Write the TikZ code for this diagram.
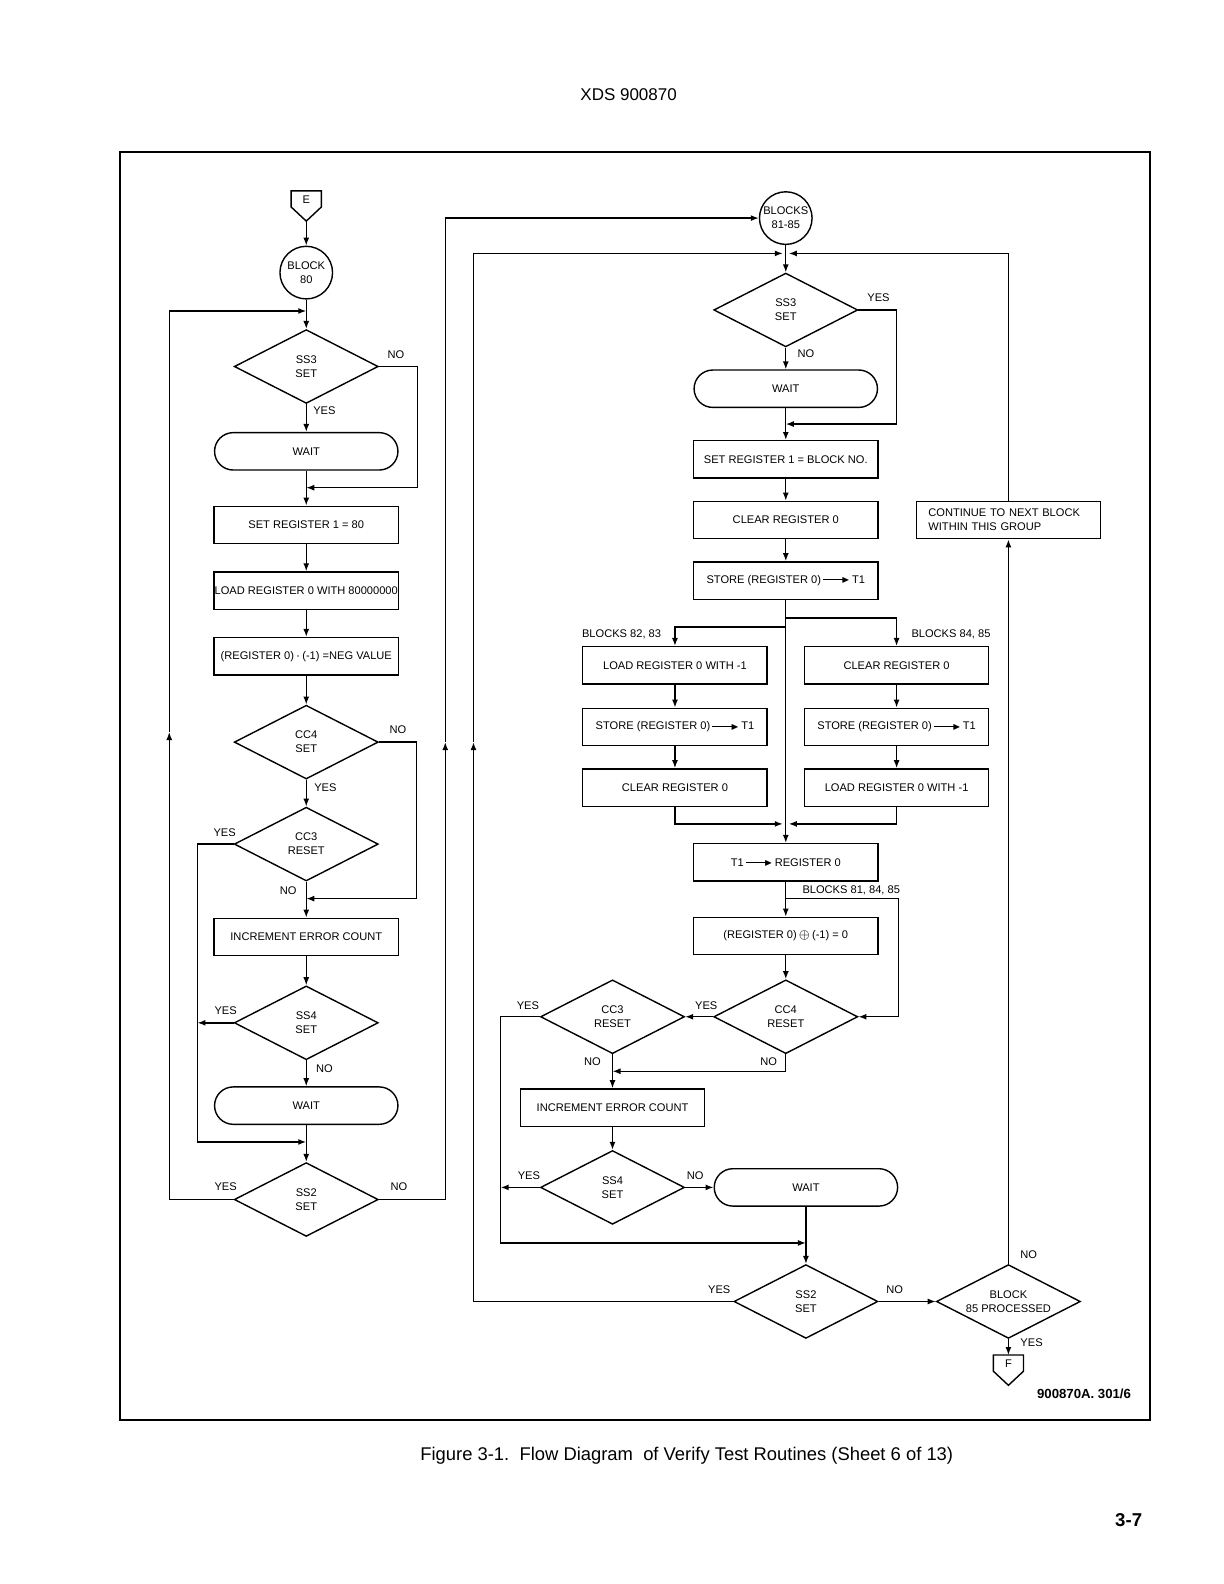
\documentclass[tikz,border=0pt]{standalone}
\usepackage{fontspec}
\usepackage{amssymb}
\usepackage{graphicx}
\setmainfont{Liberation Sans}
\usetikzlibrary{shapes.geometric,arrows.meta,calc}
\newcommand{\tarr}{\,\rule[0.3em]{2em}{0.4pt}\kern-0.35em\raisebox{0.05em}{\scalebox{0.75}{$\blacktriangleright$}}\,}
\begin{document}
\begin{tikzpicture}[x=0.50375pt,y=-0.5049pt,line width=0.7pt,
  every node/.style={font=\fontsize{5.55}{7}\selectfont},
  box/.style={draw, rectangle, minimum width=92.2pt, minimum height=18.7pt, inner sep=0.5pt},
  waitbox/.style={draw, rectangle, rounded corners=9.35pt, minimum width=91.7pt, minimum height=18.7pt},
  dec/.style={draw, diamond, aspect=2, minimum width=72pt, minimum height=36.9pt, inner sep=0pt, align=center},
  circ/.style={draw, circle, minimum size=26.3pt, inner sep=0pt, align=center},
  lbl/.style={inner sep=0pt},
  arr/.style={-{Latex[length=4pt,width=3pt]}}]
\useasboundingbox (0,0) rectangle (1214.9,1568.8);
% page texts
\node[font=\fontsize{8.5}{10}\selectfont] (head) at (624,94) {XDS 900870};
\draw[line width=1pt] (119,151) rectangle (1142,1406);
\node[anchor=west,font=\fontsize{9.2}{11}\selectfont] (cap) at (410,1442) {Figure 3-1.\ \ Flow Diagram\ \ of Verify Test Routines (Sheet 6 of 13)};
\node[anchor=east,font=\bfseries\fontsize{9.3}{11}\selectfont] (pg) at (1141,1506) {3-7};
\node[anchor=east,font=\bfseries\fontsize{6.6}{8}\selectfont] (fig) at (1130,1380) {900870A. 301/6};

% ================= LEFT COLUMN =================
\node[lbl] (etext) at (304,198) {E};
\draw (289,189) -- (319,189) -- (319,205) -- (304,219) -- (289,205) -- cycle;
\coordinate (etip) at (304,219);
\node[circ] (b80) at (304,270) {BLOCK\\80};
\draw[arr] (etip) -- (b80.north);
\coordinate (lj1) at (304,308);
\draw (b80.south) -- (lj1);
\node[dec] (lss3) at (304,363) {SS3\\SET};
\draw[arr] (lj1) -- (lss3.north);
\node[lbl] (lno1) at (393,351) {NO};
\node[lbl] (lyes1) at (322,407) {YES};
\node[waitbox] (lw1) at (304,447) {WAIT};
\draw[arr] (lss3.south) -- (lw1.north);
\coordinate (lj2) at (304,483);
\draw[arr] (lss3.east) -- ++(38,0) |- (lj2);
\draw (lw1.south) -- (lj2);
\node[box] (lsr) at (304,520) {SET REGISTER 1 = 80};
\draw[arr] (lj2) -- (lsr.north);
\node[box, inner sep=0pt] (lld) at (304,585) {LOAD REGISTER 0 WITH 80000000};
\draw[arr] (lsr.south) -- (lld.north);
\node[box] (lneg) at (304,650) {(REGISTER 0)\,$\cdot$\,(-1) =NEG VALUE};
\draw[arr] (lld.south) -- (lneg.north);
\node[dec] (lcc4) at (304,735) {CC4\\SET};
\draw[arr] (lneg.south) -- (lcc4.north);
\node[lbl] (lno2) at (395,723) {NO};
\node[lbl] (lyes2) at (323,780) {YES};
\node[dec] (lcc3) at (304,836) {CC3\\RESET};
\draw[arr] (lcc4.south) -- (lcc3.north);
\node[lbl] (lyes3) at (223,825) {YES};
\node[lbl] (lno3) at (286,882) {NO};
\coordinate (lj3) at (304,890);
\draw[arr] (lcc4.east) -- ++(37,0) |- (lj3);
\draw (lcc3.south) -- (lj3);
\node[box] (linc) at (304,928) {INCREMENT ERROR COUNT};
\draw[arr] (lj3) -- (linc.north);
\node[dec] (lss4) at (304,1013) {SS4\\SET};
\draw[arr] (linc.south) -- (lss4.north);
\node[lbl] (lyes4) at (224,1001) {YES};
\node[lbl] (lno4) at (322,1058) {NO};
\coordinate (lyb) at (196,1013);
\draw[arr] (lss4.west) -- (lyb);
\node[waitbox] (lw2) at (304,1095) {WAIT};
\draw[arr] (lss4.south) -- (lw2.north);
\coordinate (lj4) at (304,1131);
\draw[arr] (lcc3.west) -| (lyb) |- (lj4);
\draw (lw2.south) -- (lj4);
\node[dec] (lss2) at (304,1188) {SS2\\SET};
\draw[arr] (lj4) -- (lss2.north);
\node[lbl] (lyes5) at (224,1175) {YES};
\node[lbl] (lno5) at (396,1175) {NO};
\coordinate (lup) at (168,725);
\draw[arr] (lss2.west) -| (lup);
\draw[arr] (lup) |- (lj1);

% ================= RIGHT COLUMN =================
\node[circ] (b81) at (780,216) {BLOCKS\\81-85};
\coordinate (rup) at (442,735);
\draw[arr] (lss2.east) -| (rup);
\draw[arr] (rup) |- (b81.west);
\coordinate (rj) at (780,251);
\coordinate (rjL) at (777,251);
\coordinate (rjR) at (783,251);
\draw (b81.south) -- (rj);
\node[dec] (rss3) at (780,307) {SS3\\SET};
\draw[arr] (rj) -- (rss3.north);
\node[lbl] (ryes1) at (872,295) {YES};
\node[lbl] (rno1) at (800,350) {NO};
\node[waitbox] (rw1) at (780,385) {WAIT};
\draw[arr] (rss3.south) -- (rw1.north);
\coordinate (rj2) at (780,420);
\draw[arr] (rss3.east) -- ++(38,0) |- (rj2);
\draw (rw1.south) -- (rj2);
\node[box] (rsr) at (780,455) {SET REGISTER 1 = BLOCK NO.};
\draw[arr] (rj2) -- (rsr.north);
\node[box] (rclr) at (780,515) {CLEAR REGISTER 0};
\draw[arr] (rsr.south) -- (rclr.north);
\node[box] (rst) at (780,575) {STORE (REGISTER 0)\tarr T1};
\draw[arr] (rclr.south) -- (rst.north);
\coordinate (brR) at (780,612);
\coordinate (brL) at (780,621);
\node[lbl] (lb8283) at (617,628) {BLOCKS 82, 83};
\node[lbl] (lb8485) at (944,628) {BLOCKS 84, 85};
\node[box] (a1) at (670,659) {LOAD REGISTER 0 WITH -1};
\node[box] (a2) at (670,720) {STORE (REGISTER 0)\tarr T1};
\node[box] (a3) at (670,780) {CLEAR REGISTER 0};
\node[box] (b1) at (890,659) {CLEAR REGISTER 0};
\node[box] (b2) at (890,720) {STORE (REGISTER 0)\tarr T1};
\node[box] (b3) at (890,780) {LOAD REGISTER 0 WITH -1};
\draw[arr] (brL) -| (a1.north);
\draw[arr] (brR) -| (b1.north);
\draw[arr] (a1.south) -- (a2.north);
\draw[arr] (a2.south) -- (a3.north);
\draw[arr] (b1.south) -- (b2.north);
\draw[arr] (b2.south) -- (b3.north);
\coordinate (tj) at (780,816);
\coordinate (tjL) at (777,816);
\coordinate (tjR) at (783,816);
\draw[arr] (a3.south) |- (tjL);
\draw[arr] (b3.south) |- (tjR);
\draw (rst.south) -- (tj);
\node[box] (t1) at (780,854) {T1\tarr REGISTER 0};
\draw[arr] (tj) -- (t1.north);
\node[lbl] (lb818485) at (845,882) {BLOCKS 81, 84, 85};
\node[box] (xr) at (780,927) {(REGISTER 0)\,$\oplus$\,(-1) = 0};
\draw[arr] (t1.south) -- (xr.north);
\coordinate (jb) at (780,890);
\node[dec] (rcc4) at (780,1007) {CC4\\RESET};
\draw[arr] (xr.south) -- (rcc4.north);
\draw[arr] (jb) -| ($(rcc4.east)+(40,0)$) -- (rcc4.east);
\node[dec] (rcc3) at (608,1007) {CC3\\RESET};
\draw[arr] (rcc4.west) -- (rcc3.east);
\node[lbl] (ryes2) at (701,996) {YES};
\node[lbl] (ryes3) at (524,996) {YES};
\node[lbl] (rno2) at (588,1051) {NO};
\node[lbl] (rno3) at (763,1051) {NO};
\coordinate (rj3) at (608,1061);
\draw[arr] (rcc4.south) |- (rj3);
\draw (rcc3.south) -- (rj3);
\node[box] (rinc) at (608,1097) {INCREMENT ERROR COUNT};
\draw[arr] (rj3) -- (rinc.north);
\node[dec] (rss4) at (608,1176) {SS4\\SET};
\draw[arr] (rinc.south) -- (rss4.north);
\node[lbl] (ryes4) at (525,1164) {YES};
\node[lbl] (rno4) at (690,1164) {NO};
\coordinate (ryb) at (497,1176);
\draw[arr] (rss4.west) -- (ryb);
\node[waitbox] (rw2) at (800,1176) {WAIT};
\draw[arr] (rss4.east) -- (rw2.west);
\coordinate (rj4) at (800,1231);
\draw[arr] (rcc3.west) -| (ryb) |- (rj4);
\draw (rw2.south) -- (rj4);
\node[dec] (rss2) at (800,1289) {SS2\\SET};
\draw[arr] (rj4) -- (rss2.north);
\node[lbl] (ryes5) at (714,1277) {YES};
\node[lbl] (rno5) at (888,1277) {NO};
\coordinate (rup2) at (470,735);
\draw[arr] (rss2.west) -| (rup2);
\draw[arr] (rup2) |- (rjL);
\node[dec] (b85) at (1001,1289) {BLOCK\\85 PROCESSED};
\draw[arr] (rss2.east) -- (b85.west);
\node[lbl] (rno6) at (1021,1243) {NO};
\node[draw, rectangle, text width=80pt, inner xsep=6pt, minimum height=18.7pt, align=left] (cont) at (1001,515) {CONTINUE TO NEXT BLOCK\\WITHIN THIS GROUP};
\draw[arr] (b85.north) -- (cont.south);
\draw[arr] (cont.north) |- (rjR);
\node[lbl] (ryes6) at (1024,1330) {YES};
\node[lbl] (ftext) at (1001,1351) {F};
\draw (986,1342) -- (1016,1342) -- (1016,1358) -- (1001,1372) -- (986,1358) -- cycle;
\coordinate (ftop) at (1001,1342);
\draw[arr] (b85.south) -- (ftop);
\end{tikzpicture}
\end{document}
